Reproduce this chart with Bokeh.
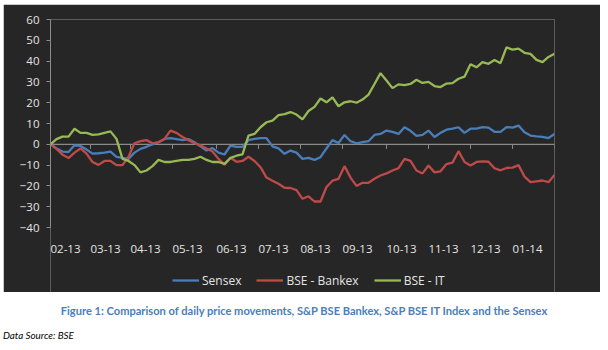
from bokeh.plotting import figure
from bokeh.models import Div, Legend, LegendItem, FixedTicker, Range1d
from bokeh.core.properties import value
from bokeh.layouts import column
from bokeh.embed import file_html
from bokeh.resources import INLINE

# trading-day index (every 3rd trading day, Feb 2013 - Jan 2014)
days = list(range(0, 253, 3))

sensex = [0, -2, -3.5, -3.7, -0.5, -0.8, -2.5, -4.5, -4.3, -4, -3.5, -6, -6.5, -7, -4,
          -2.2, -1.2, 0, 1, 2.6, 3, 2.5, 2, 2.5, 1, -1, -3, -1.8, -4, -4.9,
          -0.6, -1.2, -1.2, 2, 2.6, 3, 3, -1, -2, -4.6, -3, -4, -7, -6.5, -7.5,
          -6.2, -2, 2, 0.6, 4.5, 1.5, 0.5, 1, 1.5, 4.5, 5, 6.6, 6, 5, 8.2,
          6.5, 4, 4.5, 6.6, 3.5, 5.5, 7, 7.5, 8.2, 5.5, 7.5, 7.5, 8.3, 8, 6,
          6, 8.3, 8, 9, 5.8, 4.2, 3.8, 3.6, 3, 5]

bankex = [0, -2.2, -5, -6.6, -4, -2, -4.5, -8.5, -9.9, -8, -8, -10, -10, -6, 0.5,
          1.5, 2, 0.5, 1, 2.6, 6.6, 5.5, 3.5, 2, 0.5, -0.5, -2, -3.5, -7, -9.8,
          -6.5, -8.4, -8, -6, -8, -11, -16, -17.5, -19, -20.9, -21, -22, -26.2, -25, -27.5,
          -27.5, -20.5, -17.5, -16.6, -10.5, -16, -20, -18.5, -18.5, -16.6, -15, -14, -12.6, -11.5, -7,
          -8, -12.6, -14, -10.2, -13.5, -13, -9.5, -8.8, -3.3, -8.5, -10.2, -8.5, -8.2, -8.4, -11.5,
          -12.5, -11.4, -11.2, -10, -15.5, -18.2, -17.8, -17.4, -18.2, -14.7]

bse_it = [0, 2.5, 3.7, 3.7, 7.5, 5.5, 5.5, 4.5, 4.8, 5.5, 6.2, 2.6, -7, -8, -10,
          -13.5, -12.6, -10.5, -7.5, -8.5, -8.5, -8, -7.5, -7.5, -7, -6, -7.5, -8.5, -8.5, -9.4,
          -6.5, -5.5, -4.8, 4.2, 5, 8.2, 10.6, 11.4, 14, 14.5, 15.5, 14.3, 12, 16, 18,
          22, 20.2, 22.6, 18.3, 20.2, 20.7, 20, 21.5, 23.9, 29, 34.2, 30.7, 27, 28.8, 28.5,
          29, 31, 29.5, 30, 28, 27.5, 29.2, 29.4, 31.5, 32.5, 38.5, 37, 39.5, 38.7, 40.5,
          39, 46.6, 45.5, 46, 44, 43.5, 40.6, 39.5, 42, 43.5]

month_starts = [0, 20, 40, 61, 83, 104, 125, 146, 168, 189, 210, 231]
month_labels = ["02-13", "03-13", "04-13", "05-13", "06-13", "07-13",
                "08-13", "09-13", "10-13", "11-13", "12-13", "01-14"]
axis_end = 252
y_ticks = [-40, -30, -20, -10, 0, 10, 20, 30, 40, 50, 60]
y_min, y_max = -40, 60

BG = "#262626"
TXT = "#e4e4e4"
AX = "#8a8a8a"
FONT = "Open Sans"
colors = {"Sensex": "#4a7ebb", "BSE - Bankex": "#be4b48", "BSE - IT": "#98b954"}

# frame extends below the value axis to hold the month labels and legend
frame_bottom = -71.25
label_row = -50.1

p = figure(width=597, height=288, x_range=Range1d(0, axis_end),
           y_range=Range1d(frame_bottom, y_max), x_axis_type=None,
           output_backend="svg", toolbar_location=None,
           background_fill_color=BG, border_fill_color=BG, outline_line_color=None,
           min_border_left=47, min_border_right=46, min_border_top=15, min_border_bottom=0,
           margin=(4, 0, 0, 3))
p.xgrid.visible = False
p.ygrid.visible = False

# y axis
p.yaxis.ticker = FixedTicker(ticks=y_ticks)
p.yaxis.bounds = (y_min, y_max)
p.yaxis.axis_line_color = AX
p.yaxis.major_tick_line_color = AX
p.yaxis.major_tick_out = 4
p.yaxis.major_tick_in = 0
p.yaxis.minor_tick_line_color = None
p.yaxis.major_label_text_color = TXT
p.yaxis.major_label_text_font = FONT
p.yaxis.major_label_text_font_size = "11.5px"
p.yaxis.major_label_standoff = 7

# horizontal axis line at zero with tick marks
p.segment(x0=[0], y0=[0], x1=[axis_end], y1=[0], line_color=AX, line_width=1.3)
tick_xs = month_starts + [axis_end]
p.segment(x0=tick_xs, y0=[0] * len(tick_xs), x1=tick_xs, y1=[-2.2] * len(tick_xs),
          line_color=AX, line_width=1)

# month labels, starting at each month tick
p.text(x=month_starts, y=[label_row] * len(month_starts), text=month_labels,
       text_align="left", text_baseline="middle", x_offset=0,
       text_color=TXT, text_font=value(FONT), text_font_size="11.5px")

r1 = p.line(days, sensex, line_color=colors["Sensex"], line_width=2.3)
r2 = p.line(days, bankex, line_color=colors["BSE - Bankex"], line_width=2.3)
r3 = p.line(days, bse_it, line_color=colors["BSE - IT"], line_width=2.3)

legend = Legend(items=[LegendItem(label="Sensex", renderers=[r1]),
                       LegendItem(label="BSE - Bankex", renderers=[r2]),
                       LegendItem(label="BSE - IT", renderers=[r3])],
                orientation="horizontal", location=(122, 2),
                background_fill_alpha=0, border_line_color=None,
                label_text_color=TXT, label_text_font=FONT, label_text_font_size="12px",
                glyph_width=27, glyph_height=20, label_height=20, label_standoff=3,
                spacing=15, padding=9, margin=0)
p.add_layout(legend, "center")

caption = Div(text="Figure 1: Comparison of daily price movements, S&amp;P BSE Bankex, S&amp;P BSE IT Index and the Sensex",
              width=608, margin=(11, 0, 0, 0),
              styles={"color": "#4a7ebb", "font-weight": "bold", "font-family": "Lato",
                      "font-size": "11.1px", "text-align": "center", "width": "608px"})
source = Div(text="Data Source: BSE", width=200, margin=(10, 0, 0, 3),
             styles={"color": "#000000", "font-style": "italic", "font-family": "Lato",
                     "font-size": "9.8px"})

layout = column(p, caption, source, spacing=0)

with open("out.html", "w") as f:
    f.write(file_html(layout, INLINE))
